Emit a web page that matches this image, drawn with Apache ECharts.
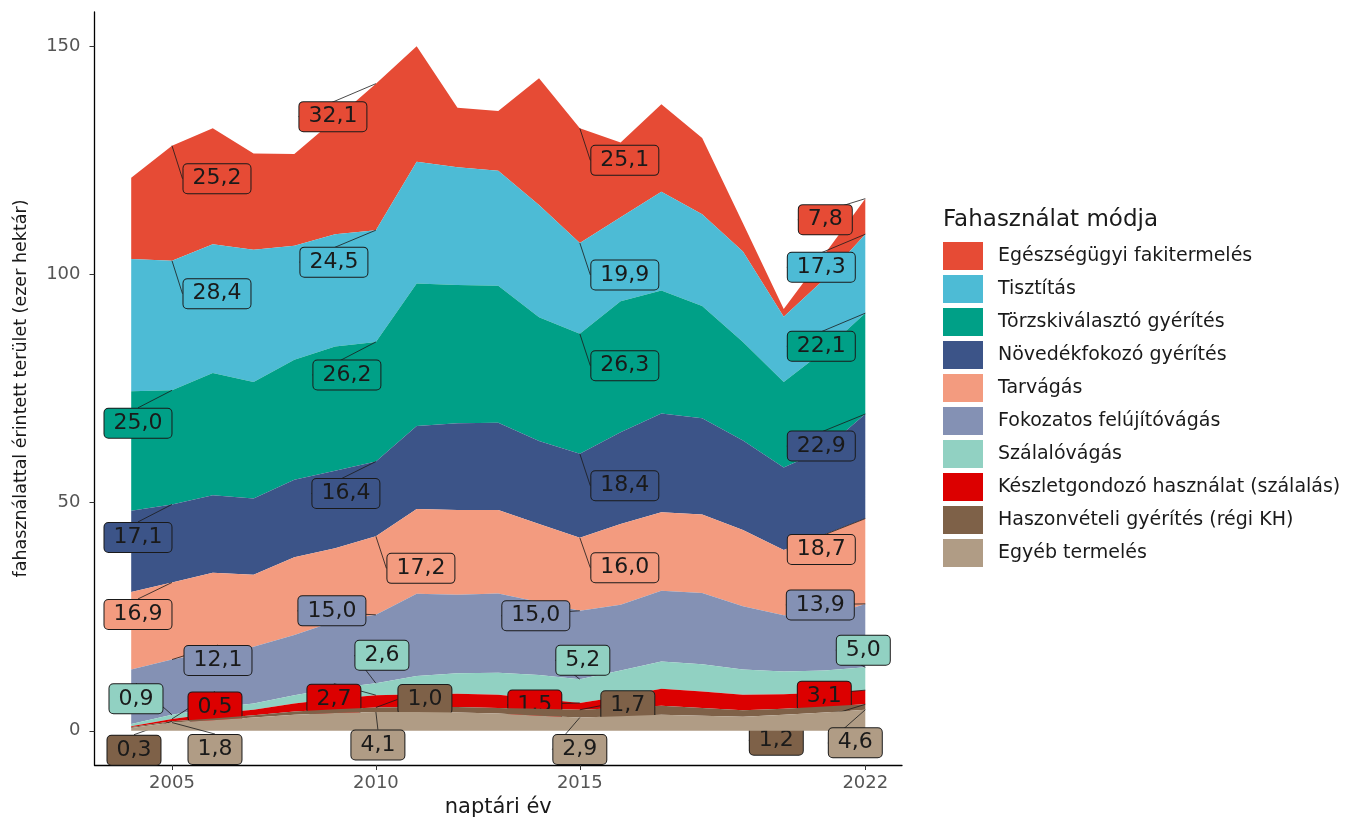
<!DOCTYPE html>
<html>
<head>
<meta charset="utf-8">
<title>Fahasználat módja</title>
<script src="https://cdn.jsdelivr.net/npm/echarts@6/dist/echarts.min.js"></script>
<style>
  html, body { margin: 0; padding: 0; background: #fff; }
  #chart { width: 1361px; height: 818px; }
</style>
</head>
<body>
<div id="chart"></div>
<script>
// naptári évek
const years = [2004, 2005, 2006, 2007, 2008, 2009, 2010, 2011, 2012, 2013, 2014, 2015, 2016, 2017, 2018, 2019, 2020, 2021, 2022];

// érintett terület (ezer ha), alulról felfelé halmozva
const egyeb     = [0.6, 1.8, 2.3, 2.9, 3.5, 3.9, 4.1, 4.1, 4.0, 3.8, 3.3, 2.9, 3.2, 3.5, 3.3, 3.1, 3.5, 4.0, 4.6];
const haszon    = [0.2, 0.3, 0.4, 0.5, 0.7, 0.8, 1.0, 1.1, 1.2, 1.2, 1.5, 1.7, 1.8, 2.0, 1.7, 1.4, 1.3, 1.3, 1.2];
const keszlet   = [0.2, 0.5, 1.1, 1.2, 1.8, 2.3, 2.7, 2.8, 2.9, 2.9, 2.2, 1.5, 2.5, 3.7, 3.6, 3.4, 3.2, 3.1, 3.1];
const szalalo   = [0.5, 0.9, 1.2, 1.4, 1.8, 2.3, 2.6, 4.0, 4.5, 4.8, 5.2, 5.2, 5.7, 6.0, 6.0, 5.5, 5.0, 4.8, 5.0];
const fokozatos = [11.9, 12.1, 12.3, 12.4, 13.2, 14.7, 15.0, 18.0, 17.2, 17.4, 16.0, 15.0, 14.4, 15.5, 15.6, 13.9, 12.3, 11.8, 13.9];
const tarvagas  = [17.0, 16.9, 17.3, 15.8, 17.0, 16.0, 17.2, 18.6, 18.6, 18.3, 17.1, 16.0, 17.7, 17.2, 17.2, 16.7, 14.3, 18.0, 18.7];
const novedek   = [17.8, 17.1, 17.0, 16.7, 17.0, 17.0, 16.4, 18.2, 19.0, 19.1, 18.2, 18.4, 20.1, 21.6, 21.1, 19.6, 18.1, 18.7, 22.9];
const torzs     = [26.2, 25.0, 26.8, 25.5, 26.3, 27.2, 26.2, 31.2, 30.3, 30.0, 27.1, 26.3, 28.7, 27.0, 24.6, 21.6, 18.7, 21.6, 22.1];
const tisztitas = [29.0, 28.4, 28.2, 29.0, 25.0, 24.6, 24.5, 26.7, 25.8, 25.2, 24.6, 19.9, 18.4, 21.6, 20.1, 19.8, 14.3, 15.7, 17.3];
const egeszseg  = [17.8, 25.2, 25.4, 21.1, 20.1, 25.2, 32.1, 25.3, 13.0, 13.1, 27.8, 25.1, 16.4, 19.2, 16.7, 6.2, 1.7, 5.4, 7.8];

const names = [
  'Egyéb termelés',
  'Haszonvételi gyérítés (régi KH)',
  'Készletgondozó használat (szálalás)',
  'Szálalóvágás',
  'Fokozatos felújítóvágás',
  'Tarvágás',
  'Növedékfokozó gyérítés',
  'Törzskiválasztó gyérítés',
  'Tisztítás',
  'Egészségügyi fakitermelés'
];
const values = [egyeb, haszon, keszlet, szalalo, fokozatos, tarvagas, novedek, torzs, tisztitas, egeszseg];
const colors = ['#B09C85', '#7E6148', '#DC0000', '#91D1C2', '#8491B4', '#F39B7F', '#3C5488', '#00A087', '#4DBBD5', '#E64B35'];

// címkézett évek és a címkék eltolása (px) a halmozott ponttól
const labelYears = [2005, 2010, 2015, 2022];
const labelOffsets = [
  [[43, 27], [2, 33], [0, 32], [-10, 33]],
  [[-38, 29], [49, -8], [48, -4], [-89, 36]],
  [[43, -12], [-42, 4], [-45, 2], [-41, 6]],
  [[-36, -16], [6, -28], [3, -19], [-2, -17]],
  [[46, 1], [-44, -4], [-44, 5], [-45, 1]],
  [[-34, 32], [45, 32], [45, 30], [-44, 31]],
  [[-34, 33], [-30, 32], [45, 32], [-44, 32]],
  [[-34, 33], [-29, 33], [45, 32], [-44, 33]],
  [[45, 33], [-42, 32], [45, 32], [-44, 33]],
  [[45, 33], [-43, 33], [45, 32], [-40, 21]]
];

const FONT = 'DejaVu Sans';

const chart = echarts.init(document.getElementById('chart'));

// az érték az első oszlop, így a halmozás az y irányban történik (x is érték-tengely)
const series = names.map((name, si) => ({
  name: name,
  type: 'line',
  stack: 'total',
  encode: { x: 1, y: 0 },
  z: 20 - si,
  symbol: 'circle',
  symbolSize: 0,
  showSymbol: true,
  smooth: false,
  silent: true,
  lineStyle: { width: 0 },
  areaStyle: { color: colors[si], opacity: 1 },
  itemStyle: { color: colors[si] },
  emphasis: { disabled: true },
  label: {
    show: false,
    position: 'inside',
    formatter: p => p.value[0].toFixed(1).replace('.', ','),
    fontFamily: FONT,
    fontSize: 22,
    lineHeight: 22,
    color: '#1a1a1a',
    backgroundColor: colors[si],
    borderColor: '#1a1a1a',
    borderWidth: 1,
    borderRadius: 4,
    padding: [5, 9, 2, 9]
  },
  labelLine: {
    show: true,
    length2: 0,
    lineStyle: { color: '#1a1a1a', width: 0.8 }
  },
  labelLayout: params => {
    const k = labelYears.indexOf(years[params.dataIndex]);
    const off = labelOffsets[params.seriesIndex][k] || [0, 0];
    return { dx: off[0], dy: off[1] };
  },
  data: years.map((y, i) => labelYears.includes(y)
    ? { value: [values[si][i], y], label: { show: true } }
    : [values[si][i], y])
}));

chart.setOption({
  animation: false,
  backgroundColor: '#ffffff',
  color: colors,
  title: {
    text: 'Fahasználat módja',
    left: 943,
    top: 209,
    padding: 0,
    textStyle: { fontFamily: FONT, fontSize: 23, fontWeight: 'normal', color: '#1a1a1a' }
  },
  legend: {
    orient: 'vertical',
    left: 943,
    top: 242,
    padding: 0,
    itemWidth: 40,
    itemHeight: 28,
    itemGap: 5,
    icon: 'rect',
    selectedMode: false,
    data: names.slice().reverse(),
    textStyle: { fontFamily: FONT, fontSize: 19, color: '#1a1a1a', padding: [0, 0, 0, 10] }
  },
  grid: { left: 94.5, right: 459, top: 12, bottom: 53, containLabel: false, outerBoundsMode: 'none' },
  xAxis: {
    type: 'value',
    min: 2003.1,
    max: 2022.9,
    name: 'naptári év',
    nameLocation: 'middle',
    nameGap: 29,
    nameTextStyle: { fontFamily: FONT, fontSize: 21, color: '#1a1a1a' },
    axisLine: { show: true, onZero: false, lineStyle: { color: '#000', width: 1.3 } },
    axisTick: { show: true, length: 5, customValues: labelYears, lineStyle: { color: '#333' } },
    axisLabel: { customValues: labelYears, margin: 9, fontFamily: FONT, fontSize: 18, color: '#555',
                 formatter: v => String(v) },
    splitLine: { show: false }
  },
  yAxis: {
    type: 'value',
    min: -7.5,
    max: 157.5,
    name: 'fahasználattal érintett terület (ezer hektár)',
    nameLocation: 'middle',
    nameGap: 64,
    nameTextStyle: { fontFamily: FONT, fontSize: 17.5, color: '#1a1a1a' },
    axisLine: { show: true, onZero: false, lineStyle: { color: '#000', width: 1.3 } },
    axisTick: { show: true, length: 5, customValues: [0, 50, 100, 150], lineStyle: { color: '#333' } },
    axisLabel: { customValues: [0, 50, 100, 150], margin: 14, fontFamily: FONT, fontSize: 18, color: '#555' },
    splitLine: { show: false }
  },
  series: series
});
</script>
</body>
</html>
